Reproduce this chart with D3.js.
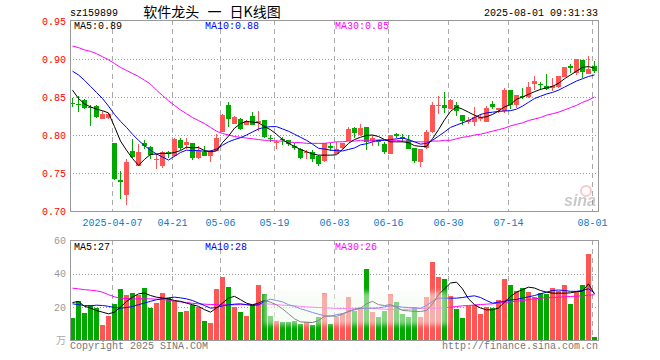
<!DOCTYPE html>
<html>
<head>
<meta charset="utf-8">
<script src="https://cdn.jsdelivr.net/npm/d3@7"></script>
<style>
  body { margin: 0; background: #fff; }
  text { font-family: "Liberation Mono", "DejaVu Sans Mono", monospace; font-size: 10px; }
</style>
</head>
<body>
<div id="chart"></div>
<script>
// trading days shown on the chart
const DATES = [
  "2025-03-26","2025-03-27","2025-03-28","2025-03-31","2025-04-01","2025-04-02","2025-04-03",
  "2025-04-07","2025-04-08","2025-04-09","2025-04-10","2025-04-11",
  "2025-04-14","2025-04-15","2025-04-16","2025-04-17","2025-04-18",
  "2025-04-21","2025-04-22","2025-04-23","2025-04-24","2025-04-25",
  "2025-04-28","2025-04-29","2025-04-30",
  "2025-05-06","2025-05-07","2025-05-08","2025-05-09",
  "2025-05-12","2025-05-13","2025-05-14","2025-05-15","2025-05-16",
  "2025-05-19","2025-05-20","2025-05-21","2025-05-22","2025-05-23",
  "2025-05-26","2025-05-27","2025-05-28","2025-05-29","2025-05-30",
  "2025-06-03","2025-06-04","2025-06-05","2025-06-06",
  "2025-06-09","2025-06-10","2025-06-11","2025-06-12","2025-06-13",
  "2025-06-16","2025-06-17","2025-06-18","2025-06-19","2025-06-20",
  "2025-06-23","2025-06-24","2025-06-25","2025-06-26","2025-06-27",
  "2025-06-30","2025-07-01","2025-07-02","2025-07-03","2025-07-04",
  "2025-07-07","2025-07-08","2025-07-09","2025-07-10","2025-07-11",
  "2025-07-14","2025-07-15","2025-07-16","2025-07-17","2025-07-18",
  "2025-07-21","2025-07-22","2025-07-23","2025-07-24","2025-07-25",
  "2025-07-28","2025-07-29","2025-07-30","2025-07-31",
  "2025-08-01"
];

const OPENS = [
  .842,.841,.846,.837,.838,.822,.822,.790,.741,.722,
  .779,.759,.789,.784,.767,.759,.777,.772,.794,.787,
  .790,.770,.778,.772,.779,.804,.839,.815,.821,.814,
  .825,.816,.820,.796,.790,.795,.793,.785,.782,.776,
  .778,.772,.765,.785,.775,.782,.792,.8095,.800,.811,
  .791,.793,.788,.7745,.801,.797,.794,.7825,.764,.783,
  .804,.839,.839,.834,.8395,.826,.8175,.8175,.821,.8175,
  .841,.8325,.8315,.859,.8395,.8515,.851,.8665,.8665,.8645,
  .8615,.8625,.877,.891,.882,.8985,.881,.891
];
const HIGHS = [
  .849,.851,.848,.839,.839,.831,.829,.790,.752,.769,
  .795,.788,.794,.786,.775,.779,.779,.796,.796,.796,
  .790,.786,.786,.780,.801,.827,.843,.825,.823,.820,
  .830,.832,.820,.800,.793,.797,.794,.789,.783,.780,
  .780,.774,.789,.789,.791,.790,.8105,.8105,.815,.811,
  .800,.794,.791,.800,.803,.801,.800,.7825,.782,.806,
  .843,.851,.856,.847,.844,.826,.824,.837,.827,.838,
  .845,.836,.8625,.859,.8525,.862,.870,.8775,.870,.880,
  .8755,.8775,.890,.894,.9005,.8985,.904,.897
];
const LOWS = [
  .837,.830,.834,.812,.822,.822,.821,.741,.716,.7075,
  .770,.759,.782,.768,.755,.756,.770,.771,.780,.781,
  .767,.769,.772,.764,.779,.804,.810,.814,.806,.813,
  .813,.805,.796,.791,.781,.787,.785,.780,.768,.768,
  .765,.759,.764,.779,.775,.781,.792,.7955,.799,.780,
  .7855,.7855,.7755,.7745,.796,.791,.781,.7635,.758,.782,
  .803,.827,.829,.834,.825,.813,.814,.812,.818,.8175,
  .834,.829,.829,.834,.836,.847,.849,.859,.859,.859,
  .858,.8615,.876,.881,.879,.875,.880,.882
];
const CLOSES = [
  .841,.840,.835,.836,.823,.828,.827,.743,.739,.765,
  .7715,.778,.785,.774,.768,.777,.774,.795,.784,.791,
  .770,.779,.773,.777,.7965,.826,.821,.824,.808,.819,
  .813,.819,.797,.795,.791,.794,.788,.782,.770,.777,
  .769,.761,.789,.782,.782,.789,.808,.803,.8095,.791,
  .7955,.790,.778,.800,.798,.795,.7825,.766,.781,.8045,
  .839,.8395,.835,.8455,.8315,.8175,.820,.824,.824,.836,
  .837,.835,.859,.8395,.8525,.8505,.8635,.871,.866,.860,
  .8645,.8775,.890,.888,.9005,.883,.887,.884
];

// price moving averages
const MA5 = [
  .859,.848,.841,.837,.834,.832,.829,.811,.792,.780,
  .769,.760,.768,.7745,.775,.776,.7755,.777,.7795,.784,
  .783,.7835,.7795,.778,.779,.790,.7985,.809,.815,.818,
  .817,.816,.811,.807,.801,.794,.789,.785,.781,.778,
  .775,.7735,.7735,.7735,.774,.781,.789,.794,.797,.7995,
  .800,.798,.794,.791,.791,.791,.790,.786,.785,.785,
  .795,.807,.820,.831,.837,.834,.830,.826,.823,.824,
  .827,.8315,.837,.840,.847,.850,.8535,.857,.860,.862,
  .864,.868,.874,.879,.884,.889,.890,.888
];
const MA10 = [
  .884,.879,.872,.864,.856,.848,.838,.827,.818,.810,
  .801,.793,.786,.780,.775,.771,.767,.772,.777,.780,
  .7795,.7795,.7785,.779,.7815,.7865,.791,.794,.7965,.800,
  .804,.808,.810,.811,.811,.808,.805,.801,.797,.793,
  .788,.7825,.7815,.780,.7795,.779,.781,.783,.787,.7885,
  .791,.793,.793,.794,.795,.796,.794,.791,.788,.789,
  .793,.7985,.804,.810,.813,.816,.819,.823,.827,.829,
  .830,.831,.8316,.832,.834,.838,.843,.848,.851,.854,
  .856,.859,.863,.867,.871,.874,.877,.879
];
const MA30 = [
  .917,.915,.912,.910,.907,.903,.899,.894,.889,.885,
  .881,.877,.872,.867,.859,.852,.845,.839,.833,.828,
  .823,.819,.815,.810,.805,.802,.800,.798,.797,.796,
  .795,.794,.793,.793,.792,.792,.791,.790,.790,.789,
  .789,.789,.789,.790,.791,.791,.792,.792,.793,.793,
  .793,.7935,.7935,.793,.793,.792,.792,.791,.791,.791,
  .792,.792,.793,.793,.795,.797,.798,.800,.801,.803,
  .805,.807,.809,.812,.814,.816,.819,.821,.823,.826,
  .828,.830,.833,.836,.839,.843,.846,.850
];

// volume (万手)
const VOLUMES = [
  13.4,24,16.4,21.6,19.4,9.6,15,22.2,30.8,27.6,
  28.4,27.4,31.4,19.4,22.4,28.4,25.8,23.6,17.4,18,
  21.4,20.4,11.6,10.8,31,38,32.4,20,17,15,
  21.4,33.6,28.2,15,12,11,11,12,10,11,
  9.4,14,28.4,10,14,16,26,18,20,43.2,
  17,14,18,28,23,16,14,20,14,26,
  47.2,38.2,37.2,26.8,19.2,13.8,20.8,21.4,15.8,20.4,
  19.4,24.6,37.2,33.6,29.6,31.4,29.4,26,28.6,28,
  31.8,30,33.6,22,29,33.6,52.2,2.4
];
const VMA5 = [
  22.8,23.4,20.5,19.5,18,17,16,17,20,23.4,
  26,28,28.5,27,26,25.5,25,24,23.5,22.4,
  21.5,20.5,18.5,17,19.5,22.4,25.5,26.5,24.5,22.4,
  21.4,22.5,24,23,21.4,19,16,13,11.2,11,
  10.8,12,14.5,14.8,14.5,15.8,17.5,18.8,19.4,22,
  23.5,21.5,21,21.5,20,18,17.8,17.5,17.4,18,
  22,27.5,31,34.5,35,31,25,21.5,19.5,18.4,
  18.4,19.5,23,26.4,29,30.5,32,31.5,30,29,
  28.4,28.4,28.4,28.6,29.3,29.6,34,27.8
];
const VMA10 = [
  22,21.5,21,20.8,21.2,21,20.5,19.8,19.4,19.8,
  20.4,21.5,22.5,23.5,24.5,25,25.6,26,25.6,25,
  24,22.5,21,19.4,19.8,20.8,21.4,21.8,22,21.5,
  21,21.4,23.5,24.8,24,23.2,21.5,20.5,19,18,
  16.8,15.8,14.8,14.5,15.5,16.2,17.2,18.4,19.2,19.4,
  19.4,19.6,20.2,20.8,20.5,20,19.8,19.5,19.4,21,
  23.5,25.4,25.4,25.4,25.4,25.8,26.4,26.8,25.8,24,
  22.4,23,23.5,24.3,24.6,25.5,26.2,27,28,29,
  30,30.3,30,29.5,29.5,30,31,28.5
];
const VMA30 = [
  31.4,31,30.5,30.2,29.8,29,27.5,26.2,25.4,25.2,
  25,25,25,25,24.8,24.6,24.2,23.6,23.2,22.8,
  22.3,22,21.8,21.6,21.5,21.4,21.4,21.4,21.5,21.5,
  21.6,21.8,22,21.8,21.5,21.2,21,20.8,20.5,20.2,
  20,19.8,19.6,19.4,19.2,19.2,19.2,19.3,19.4,19.4,
  19.2,19,18.8,18.6,18.5,18.6,18.8,19,19.2,19.4,
  19.4,19.4,19.6,20,20.4,20.8,21,21.3,21.6,21.8,
  22,22.4,22.8,23.2,23.5,24,24.5,25,25.4,25.6,
  25.8,26,26.2,26.4,26.6,26.8,27.2,27.4
];

const PRICE_TICKS = [0.95, 0.90, 0.85, 0.80, 0.75, 0.70];
const VOL_TICKS = [60, 40, 20];
const TICK_DATES = ["2025-04-07","2025-04-21","2025-05-06","2025-05-19","2025-06-03","2025-06-16","2025-06-30","2025-07-14","2025-08-01"];
const TICK_LABELS = ["2025-04-07","04-21","05-06","05-19","06-03","06-16","06-30","07-14","08-01"];

const WIDTH = 660, HEIGHT = 360;
const PLOT = { left: 70, right: 598, top: 20, bottom: 211 };
const VOLP = { top: 240, bottom: 340 };
const RED = "#ff5555", GREEN = "#00a800";

const svg = d3.select("#chart").append("svg")
  .attr("width", WIDTH).attr("height", HEIGHT)
  .style("display", "block");

const X = d3.scaleBand().domain(DATES).range([PLOT.left, PLOT.right]);
const Y = d3.scaleLinear().domain([0.70, 0.95]).range([PLOT.bottom, PLOT.top + 1]);
const YV = d3.scaleLinear().domain([0, 60]).range([VOLP.bottom + 0.5, VOLP.top + 0.5]);

const bars = DATES.map((d, i) => ({
  date: d, o: OPENS[i], h: HIGHS[i], l: LOWS[i], c: CLOSES[i], v: VOLUMES[i],
  up: CLOSES[i] >= OPENS[i]
}));

// header texts
svg.append("text").attr("x", 70).attr("y", 16).attr("fill", "#000").text("sz159899");
svg.append("text").attr("x", 212).attr("y", 17).attr("text-anchor", "middle")
  .style("font-family", "'Noto Sans CJK SC', sans-serif").style("font-size", "14px")
  .style("word-spacing", "5px")
  .attr("fill", "#000").text("软件龙头 一 日K线图");
svg.append("text").attr("x", 598).attr("y", 16).attr("text-anchor", "end")
  .attr("fill", "#000").text("2025-08-01 09:31:33");

// grid: dotted horizontals
svg.append("g").selectAll("line")
  .data(PRICE_TICKS.slice(1, -1))
  .enter().append("line")
  .attr("x1", PLOT.left).attr("x2", PLOT.right)
  .attr("y1", (d) => Math.round(Y(d)) + 0.5).attr("y2", (d) => Math.round(Y(d)) + 0.5)
  .attr("stroke", "#999").attr("stroke-dasharray", "1,2");

svg.append("g").selectAll("line")
  .data([40, 20])
  .enter().append("line")
  .attr("x1", PLOT.left).attr("x2", PLOT.right)
  .attr("y1", (d) => Math.round(YV(d)) + 0.5).attr("y2", (d) => Math.round(YV(d)) + 0.5)
  .attr("stroke", "#999").attr("stroke-dasharray", "1,2");

// dashed verticals at date ticks
[[PLOT.top, PLOT.bottom], [VOLP.top, VOLP.bottom]].forEach((r) => {
  svg.append("g").selectAll("line")
    .data(TICK_DATES)
    .enter().append("line")
    .attr("x1", (d) => X(d) + 0.5).attr("x2", (d) => X(d) + 0.5)
    .attr("y1", r[0]).attr("y2", r[1])
    .attr("stroke", "#aaa").attr("stroke-dasharray", "5,4");
});

// price labels
svg.append("g").selectAll("text")
  .data(PRICE_TICKS)
  .enter().append("text")
  .attr("x", 66).attr("y", (d) => Y(d) + 3.5)
  .attr("text-anchor", "end").attr("fill", "#f00")
  .text((d) => d.toFixed(2));

svg.append("g").selectAll("text")
  .data(VOL_TICKS)
  .enter().append("text")
  .attr("x", 66).attr("y", (d) => YV(d) + 3.5)
  .attr("text-anchor", "end").attr("fill", "#999")
  .text((d) => d);

svg.append("text").attr("x", 66).attr("y", 344).attr("text-anchor", "end")
  .style("font-family", "'Noto Sans CJK SC', sans-serif").style("font-size", "10px")
  .attr("fill", "#aaa").text("万");

// date labels
svg.append("g").selectAll("text")
  .data(TICK_DATES)
  .enter().append("text")
  .attr("x", (d) => X(d) + 0.5).attr("y", 226)
  .attr("text-anchor", "middle").attr("fill", "#0b7bcc")
  .text((d, i) => TICK_LABELS[i]);

// sina watermark
const logo = svg.append("g").attr("opacity", 0.45);
logo.append("circle").attr("cx", 586).attr("cy", 191).attr("r", 5)
  .attr("fill", "none").attr("stroke", "#e88").attr("stroke-width", 2);
logo.append("text").attr("x", 596).attr("y", 206).attr("text-anchor", "end")
  .style("font-family", "'Liberation Sans', sans-serif").style("font-size", "16px")
  .style("font-weight", "bold").style("font-style", "italic")
  .attr("fill", "#888").text("sina");

// candles
const candles = svg.append("g").attr("shape-rendering", "crispEdges");
candles.selectAll("line")
  .data(bars)
  .enter().append("line")
  .attr("x1", (d) => X(d.date) + 2.5).attr("x2", (d) => X(d.date) + 2.5)
  .attr("y1", (d) => Y(d.h)).attr("y2", (d) => Y(d.l))
  .attr("stroke", (d) => d.up ? RED : GREEN);
candles.selectAll("rect")
  .data(bars)
  .enter().append("rect")
  .attr("x", (d) => X(d.date))
  .attr("width", 5)
  .attr("y", (d) => Math.round(Y(Math.max(d.o, d.c))))
  .attr("height", (d) => Math.max(1, Math.round(Math.abs(Y(d.o) - Y(d.c)))))
  .attr("fill", (d) => d.up ? RED : GREEN);

// volume bars
svg.append("g").attr("shape-rendering", "crispEdges")
  .selectAll("rect")
  .data(bars)
  .enter().append("rect")
  .attr("x", (d) => X(d.date))
  .attr("width", 5)
  .attr("y", (d) => Math.round(YV(d.v)))
  .attr("height", (d) => VOLP.bottom - Math.round(YV(d.v)))
  .attr("fill", (d) => d.up ? RED : GREEN);

// moving average lines
function drawLine(values, scale, color) {
  const line = d3.line()
    .x((d, i) => X(DATES[i]) + 2.5)
    .y((d) => scale(d));
  svg.append("path")
    .datum(values)
    .attr("d", line)
    .attr("fill", "none")
    .attr("stroke", color)
    .attr("stroke-width", 1);
}
drawLine(MA30, Y, "#ff00ff");
drawLine(MA10, Y, "#0000ff");
drawLine(MA5, Y, "#000");
drawLine(VMA30, YV, "#ff00ff");
drawLine(VMA10, YV, "#0000ff");
drawLine(VMA5, YV, "#000");

// faded patch over part of the volume panel
const defs = svg.append("defs");
defs.append("filter").attr("id", "soft")
  .attr("x", "-20%").attr("y", "-40%").attr("width", "140%").attr("height", "180%")
  .append("feGaussianBlur").attr("stdDeviation", 2.5);
svg.append("rect")
  .attr("x", X("2025-05-19") - 10).attr("y", 292)
  .attr("width", X("2025-06-27") - X("2025-05-19") + 16).attr("height", 33)
  .attr("fill", "#f4faf2").attr("opacity", 0.55)
  .attr("filter", "url(#soft)");

// legends
const legends = [
  [74, 29, "#000", "MA5:0.89"], [205, 29, "#0000ff", "MA10:0.88"], [335, 29, "#ff00ff", "MA30:0.85"],
  [74, 250, "#000", "MA5:27"], [205, 250, "#0000ff", "MA10:28"], [335, 250, "#ff00ff", "MA30:26"]
];
svg.append("g").selectAll("text")
  .data(legends)
  .enter().append("text")
  .attr("x", (d) => d[0]).attr("y", (d) => d[1])
  .attr("fill", (d) => d[2])
  .text((d) => d[3]);

// frames
svg.append("rect")
  .attr("x", PLOT.left + 0.5).attr("y", PLOT.top + 0.5)
  .attr("width", PLOT.right - PLOT.left).attr("height", PLOT.bottom - PLOT.top)
  .attr("fill", "none").attr("stroke", "#999");
svg.append("rect")
  .attr("x", PLOT.left + 0.5).attr("y", VOLP.top + 0.5)
  .attr("width", PLOT.right - PLOT.left).attr("height", VOLP.bottom - VOLP.top)
  .attr("fill", "none").attr("stroke", "#999");

// footer
svg.append("text").attr("x", 70).attr("y", 349).attr("fill", "#777").text("Copyright 2025 SINA.COM");
svg.append("text").attr("x", 598).attr("y", 349).attr("text-anchor", "end").attr("fill", "#777")
  .text("http://finance.sina.com.cn");
</script>
</body>
</html>
